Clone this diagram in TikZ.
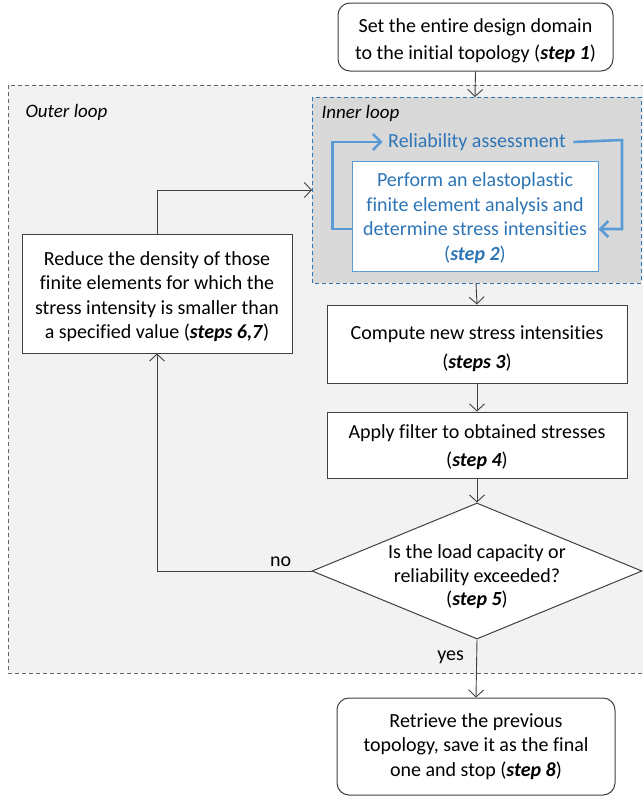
\documentclass[tikz,border=0pt]{standalone}
\usepackage{fontspec}
\setmainfont{Carlito}[Ligatures=NoCommon]
\usetikzlibrary{arrows.meta,shapes.geometric}
\definecolor{loopblue}{HTML}{5B9BD5}
\definecolor{textblue}{HTML}{2E75B6}
\definecolor{innerfill}{HTML}{D9D9D9}
\definecolor{outerfill}{HTML}{F2F2F2}
\definecolor{linegray}{HTML}{404040}
\newcommand{\stp}[1]{\textbf{\textit{#1}}}
% taller first line: pushes a centred text block down a little
\newcommand{\topstrut}[1]{\rule{0pt}{#1}}
\tikzset{
  box/.style={draw=linegray, line width=1pt, fill=white, align=center,
    font=\fontsize{20}{24.5}\selectfont, inner sep=0pt},
  termbox/.style={box, rounded corners=12pt},
  decision/.style={draw=linegray, line width=1pt, fill=white, diamond, aspect=2.43,
    inner sep=0pt},
  flow/.style={draw=linegray, line width=0.9pt, -{Straight Barb[length=7pt,width=15pt]}},
  bluearrow/.style={draw=loopblue, line width=2.6pt,
    -{Straight Barb[length=8pt,width=16pt,line width=2.6pt]}},
  lbl/.style={font=\fontsize{20}{24}\selectfont}
}
\begin{document}
\begin{tikzpicture}[x=1pt,y=-1pt]
\clip (0,0) rectangle (643,796);
\useasboundingbox (0,0) rectangle (643,796);
% outer loop region
\draw[draw=linegray!80, dash pattern=on 4pt off 3pt, line width=1pt, fill=outerfill]
  (8,85) rectangle (680,673);
\node[font=\fontsize{19}{22}\selectfont\itshape, anchor=west] (outerlbl) at (22,112) {Outer loop};
% inner loop region
\draw[draw=textblue, dash pattern=on 4pt off 3pt, line width=0.9pt, fill=innerfill]
  (312,97) rectangle (641,283);
\coordinate (innertop) at (475,97);
\coordinate (innerbot) at (476,283);
\coordinate (innerleft) at (312,190);
\node[font=\fontsize{19}{22}\selectfont\itshape, anchor=west] (innerlbl) at (318,113) {Inner loop};
\node[font=\fontsize{20}{24}\selectfont, text=textblue] (rel) at (477,142) {Reliability assessment};
\node[box, draw=loopblue, text=textblue, minimum width=246pt, minimum height=110pt] (fem) at (475,216)
  {\topstrut{18pt}Perform an elastoplastic\\finite element analysis and\\determine stress intensities\\(\stp{step 2})};
% blue reliability loop
\draw[bluearrow] ([yshift=-13pt]fem.west) -- ++(-19,0) |- ([xshift=-2pt]rel.west);
\draw[bluearrow] ([xshift=4pt]rel.east) -- (622,140) |- ([yshift=-13pt]fem.east);
% boxes
\node[termbox, minimum width=275pt, minimum height=68pt, font=\fontsize{20}{27}\selectfont] (start) at (475.5,37)
  {\topstrut{22pt}Set the entire design domain\\to the initial topology (\stp{step 1})};
\node[box, minimum width=270pt, minimum height=119pt] (reduce) at (157,293.5)
  {\topstrut{20pt}Reduce the density of those\\finite elements for which the\\stress intensity is smaller than\\a specified value (\stp{steps 6,7})};
\node[box, minimum width=300pt, minimum height=78pt, font=\fontsize{20}{29}\selectfont] (compute) at (477,344)
  {\topstrut{24pt}Compute new stress intensities\\(\stp{steps 3})};
\node[box, minimum width=300pt, minimum height=66pt, font=\fontsize{20}{28}\selectfont] (apply) at (477,445)
  {\topstrut{18pt}Apply filter to obtained stresses\\(\stp{step 4})};
\node[decision, minimum width=330pt, minimum height=136pt] (check) at (477,571) {};
\node[align=center, font=\fontsize{20}{23.5}\selectfont, inner sep=0pt] (checktext) at (477,577)
  {Is the load capacity or\\reliability exceeded?\\(\stp{step 5})};
\node[termbox, minimum width=278pt, minimum height=97pt] (stop) at (476,746.5)
  {Retrieve the previous\\topology, save it as the final\\one and stop (\stp{step 8})};
% connectors
\draw[flow] (start.south) -- (innertop);
\draw[flow] (innerbot) -- (compute.north);
\draw[flow] (compute) -- (apply);
\draw[flow] (apply) -- (check.north);
\draw[flow] (check.south) -- node[lbl, left, pos=0.3, xshift=-9pt] {yes} (stop.north);
\draw[flow] (check.west) -| node[lbl, above, pos=0.1, yshift=1pt] {no} (reduce.south);
\draw[flow] (reduce.north) |- (innerleft);
\end{tikzpicture}
\end{document}
